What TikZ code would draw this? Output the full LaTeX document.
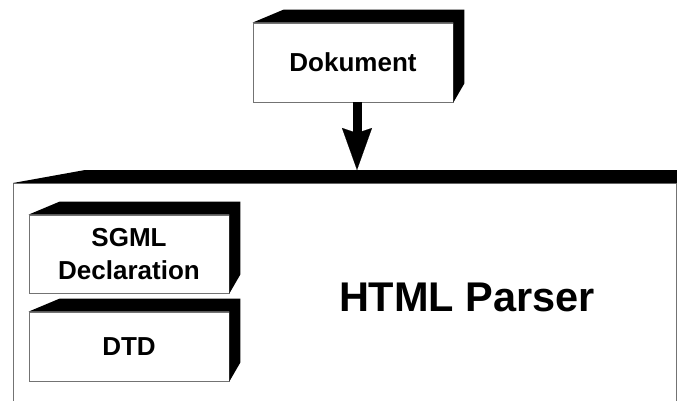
\documentclass[tikz,border=0pt]{standalone}
\usepackage{fontspec}
\setmainfont{Liberation Sans}
\usetikzlibrary{arrows.meta}
\tikzset{
  block/.style={draw=black!55, line width=0.8pt, fill=white, inner sep=0pt,
    align=center, minimum width=200pt, font=\bfseries\fontsize{26}{33}\selectfont},
  blockside/.style={fill=black},
}
\begin{document}
\begin{tikzpicture}[x=1pt,y=-1pt]
    \useasboundingbox (0,0) rectangle (677,400);
    \clip (0,0) rectangle (677,400);
    % parser frame
    \node[block, minimum width=663pt, minimum height=260pt, anchor=north west] (parser) at (13,183) {};
    \fill[blockside] (parser.north west) -- ++(72,-13) -- ([shift={(30,-13)}]parser.north east) -- (parser.north east) -- cycle;
    \node[font=\bfseries\fontsize{41.5}{49}\selectfont] (title) at (467,297) {HTML Parser};
    %
    \node[block, minimum height=79pt] (doc) at (353,62.5) {Dokument};
    \node[block, minimum height=78pt] (sgml) at (129,254) {SGML\\Declaration};
    \node[block, minimum height=69pt] (dtd) at (129,346.5) {DTD};
    %
    \foreach \n in {doc,sgml,dtd}{
      \fill[blockside] (\n.north west) -- ++(31,-13) -- ([shift={(11,-13)}]\n.north east)
        -- ([shift={(11,-19)}]\n.south east) -- (\n.south east) -- (\n.north east) -- cycle;
    }
    %
    \coordinate (entry) at (357,170);
    \draw[line width=9pt, -{Stealth[length=42pt, width=30pt, inset=5pt, line width=0.1pt]}] (doc.south -| entry) -- (entry);
\end{tikzpicture}
\end{document}
